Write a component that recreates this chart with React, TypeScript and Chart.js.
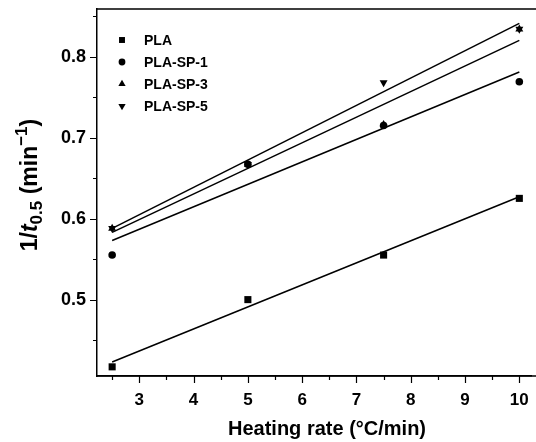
import React, { useEffect, useRef } from 'react';
import { Chart, registerables } from 'chart.js';

Chart.register(...registerables);

// ---- data ----
const heatingRates = [2.5, 5, 7.5, 10];
const seriesNames = ['PLA', 'PLA-SP-1', 'PLA-SP-3', 'PLA-SP-5'];
const pla = [0.417, 0.5, 0.555, 0.625];
const plaSp1 = [0.555, 0.667, 0.715, 0.769];
const plaSp3 = [0.588, 0.667, 0.716, 0.834];
const plaSp5 = [0.588, 0.667, 0.768, 0.834];

// linear-fit lines (end points)
const fitX = [2.5, 10];
const plaFit = [0.423, 0.627];
const plaSp1Fit = [0.573, 0.781];
const plaSp3Fit = [0.583, 0.82];
const plaSp5Fit = [0.588, 0.841];

const xTicks = [3, 4, 5, 6, 7, 8, 9, 10];
const xMinorTicks = [2.5, 3.5, 4.5, 5.5, 6.5, 7.5, 8.5, 9.5];
const yTicks = [0.5, 0.6, 0.7, 0.8];
const yMinorTicks = [0.45, 0.55, 0.65, 0.75, 0.85];

const xTitle = 'Heating rate (\u00B0C/min)';

const FONT = '"Liberation Sans", Arial, sans-serif';
const pointStyles: any[] = ['rect', 'circle', 'triangle', 'triangle'];
const pointRotations = [0, 0, 0, 180];
const pointRadii = [5, 3.8, 4.6, 4.6];

function drawMarker(ctx: CanvasRenderingContext2D, style: string, rot: number, x: number, y: number, r: number) {
  ctx.save();
  ctx.fillStyle = '#000';
  ctx.beginPath();
  if (style === 'rect') {
    const s = r * Math.SQRT1_2;
    ctx.rect(x - s, y - s, 2 * s, 2 * s);
  } else if (style === 'circle') {
    ctx.arc(x, y, r, 0, Math.PI * 2);
  } else {
    const dir = rot === 180 ? -1 : 1;
    const h = r * 1.5;
    const w = r * Math.sqrt(3);
    ctx.moveTo(x, y - dir * r);
    ctx.lineTo(x - w / 2, y - dir * r + dir * h);
    ctx.lineTo(x + w / 2, y - dir * r + dir * h);
    ctx.closePath();
  }
  ctx.fill();
  ctx.restore();
}

const decorPlugin = {
  id: 'decor',
  afterDraw(chart: any) {
    const ctx: CanvasRenderingContext2D = chart.ctx;
    const { left, top, bottom } = chart.chartArea;
    const xs = chart.scales.x;
    const ys = chart.scales.y;
    const edge = chart.width;
    ctx.save();
    ctx.strokeStyle = '#000';
    ctx.lineWidth = 1.5;
    // top frame line and bottom axis, running to the image edge
    ctx.beginPath();
    ctx.moveTo(left, top);
    ctx.lineTo(edge, top);
    ctx.moveTo(left, bottom);
    ctx.lineTo(edge, bottom);
    ctx.stroke();
    // ticks
    ctx.lineWidth = 1.2;
    ctx.beginPath();
    xTicks.forEach((v) => {
      const px = Math.round(xs.getPixelForValue(v)) + 0.5;
      ctx.moveTo(px, bottom);
      ctx.lineTo(px, bottom + 7);
    });
    xMinorTicks.forEach((v) => {
      const px = Math.round(xs.getPixelForValue(v)) + 0.5;
      ctx.moveTo(px, bottom);
      ctx.lineTo(px, bottom + 4);
    });
    yTicks.forEach((v) => {
      const py = Math.round(ys.getPixelForValue(v)) + 0.5;
      ctx.moveTo(left, py);
      ctx.lineTo(left - 7, py);
    });
    yMinorTicks.forEach((v) => {
      if (v > ys.max) return;
      const py = Math.round(ys.getPixelForValue(v)) + 0.5;
      ctx.moveTo(left, py);
      ctx.lineTo(left - 4, py);
    });
    ctx.stroke();

    // x title
    ctx.fillStyle = '#000';
    ctx.font = `bold 20px ${FONT}`;
    ctx.textAlign = 'center';
    ctx.textBaseline = 'middle';
    ctx.fillText(xTitle, 327, 429);

    // y title (rotated, rich text)
    const parts = [
      { t: '1/', f: `bold 23px ${FONT}`, dy: 0 },
      { t: 't', f: `italic bold 23px ${FONT}`, dy: 0 },
      { t: '0.5', f: `bold 17px ${FONT}`, dy: 6 },
      { t: ' (min', f: `bold 23px ${FONT}`, dy: 0 },
      { t: '\u22121', f: `bold 17px ${FONT}`, dy: -9 },
      { t: ')', f: `bold 23px ${FONT}`, dy: 0 },
    ];
    let total = 0;
    parts.forEach((p) => {
      ctx.font = p.f;
      total += ctx.measureText(p.t).width;
    });
    ctx.translate(31, 185);
    ctx.rotate(-Math.PI / 2);
    ctx.textAlign = 'left';
    ctx.textBaseline = 'middle';
    let cx = -total / 2;
    parts.forEach((p) => {
      ctx.font = p.f;
      ctx.fillText(p.t, cx, p.dy);
      cx += ctx.measureText(p.t).width;
    });
    ctx.restore();

    // legend
    ctx.save();
    const legendX = 122;
    const legendY = [40, 62, 84, 106];
    const legendR = [4.2, 3.4, 4.2, 4.2];
    ctx.font = `bold 14px ${FONT}`;
    ctx.fillStyle = '#000';
    ctx.textAlign = 'left';
    ctx.textBaseline = 'middle';
    seriesNames.forEach((name, i) => {
      drawMarker(ctx, pointStyles[i], pointRotations[i], legendX, legendY[i], legendR[i]);
      ctx.fillText(name, 144, legendY[i] + 1);
    });
    ctx.restore();
  },
};

export default function App() {
  const ref = useRef<HTMLCanvasElement | null>(null);

  useEffect(() => {
    if (!ref.current) return;
    const seriesValues = [pla, plaSp1, plaSp3, plaSp5];
    const fits = [plaFit, plaSp1Fit, plaSp3Fit, plaSp5Fit];

    const fitSets = fits.map((f, i) => ({
      type: 'line' as const,
      label: seriesNames[i] + ' fit',
      data: fitX.map((x, j) => ({ x, y: f[j] })),
      borderColor: '#000',
      borderWidth: 1.5,
      pointRadius: 0,
      fill: false,
      showLine: true,
      order: 2,
    }));
    const pointSets = seriesValues.map((vals, i) => ({
      type: 'scatter' as const,
      label: seriesNames[i],
      data: heatingRates.map((x, j) => ({ x, y: vals[j] })),
      backgroundColor: '#000',
      borderColor: '#000',
      borderWidth: 0,
      pointStyle: pointStyles[i],
      rotation: pointRotations[i],
      pointRadius: pointRadii[i],
      showLine: false,
      clip: false,
      order: 1,
    }));

    const noPad = (s: any) => {
      s.paddingTop = 0;
      s.paddingBottom = 0;
      s.paddingLeft = 0;
      s.paddingRight = 0;
    };

    const chart = new Chart(ref.current, {
      type: 'scatter',
      data: { datasets: [...fitSets, ...pointSets] as any },
      options: {
        animation: false,
        responsive: false,
        devicePixelRatio: 1,
        layout: { padding: { top: 9, right: 0, left: 0, bottom: 0 } },
        plugins: { legend: { display: false }, tooltip: { enabled: false } },
        scales: {
          x: {
            type: 'linear',
            min: 2.221,
            max: 10.215,
            afterFit: (s: any) => { s.height = 66; noPad(s); },
            afterBuildTicks: (s: any) => { s.ticks = xTicks.map((v) => ({ value: v })); },
            grid: { display: false, drawTicks: false },
            border: { display: true, color: '#000', width: 1.5 },
            ticks: {
              color: '#000',
              font: { family: FONT, size: 17, weight: 'bold' },
              padding: 14,
              maxRotation: 0,
              autoSkip: false,
              callback: (v: any) => String(v),
            },
          },
          y: {
            type: 'linear',
            min: 0.4057,
            max: 0.8588,
            afterFit: (s: any) => { s.width = 97; noPad(s); },
            afterBuildTicks: (s: any) => { s.ticks = yTicks.map((v) => ({ value: v })); },
            grid: { display: false, drawTicks: false },
            border: { display: true, color: '#000', width: 1.5 },
            ticks: {
              color: '#000',
              font: { family: FONT, size: 18, weight: 'bold' },
              padding: 11,
              autoSkip: false,
              callback: (v: any) => Number(v).toFixed(1),
            },
          },
        },
      },
      plugins: [decorPlugin],
    });
    return () => chart.destroy();
  }, []);

  return (
    <div style={{ position: 'absolute', left: 0, top: 0, width: 536, height: 442, background: '#fff' }}>
      <canvas ref={ref} width={536} height={442} style={{ width: 536, height: 442, display: 'block' }} />
    </div>
  );
}
